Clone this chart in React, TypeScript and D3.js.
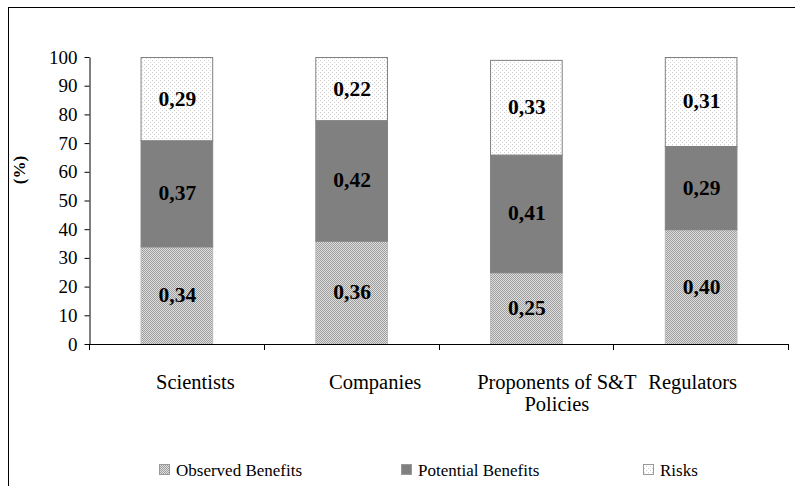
import { useEffect, useRef } from "react";
import * as d3 from "d3";

const categories = ["Scientists", "Companies", "Proponents of S&T\nPolicies", "Regulators"];
const observed = [34, 36, 25, 40];
const potential = [37, 42, 41, 29];
const risks = [29, 22, 33, 31];
const observedLabels = ["0,34", "0,36", "0,25", "0,40"];
const potentialLabels = ["0,37", "0,42", "0,41", "0,29"];
const riskLabels = ["0,29", "0,22", "0,33", "0,31"];
const seriesNames = ["Observed Benefits", "Potential Benefits", "Risks"];
const yTicks = [0, 10, 20, 30, 40, 50, 60, 70, 80, 90, 100];

const FONT = "'Liberation Serif', 'Times New Roman', serif";

export default function App() {
  const ref = useRef<SVGSVGElement>(null);

  useEffect(() => {
    const svg = d3.select(ref.current);
    svg.selectAll("*").remove();
    const W = 795, H = 486;
    const left = 89, right = 788, top = 57, bottom = 344;

    const defs = svg.append("defs");
    // fine checker for observed benefits
    const pObs = defs.append("pattern").attr("id", "obs").attr("patternUnits", "userSpaceOnUse")
      .attr("width", 2).attr("height", 2);
    pObs.append("rect").attr("width", 2).attr("height", 2).attr("fill", "#dedede");
    pObs.append("rect").attr("x", 0).attr("y", 0).attr("width", 1).attr("height", 1).attr("fill", "#9e9e9e");
    pObs.append("rect").attr("x", 1).attr("y", 1).attr("width", 1).attr("height", 1).attr("fill", "#9e9e9e");
    // sparse dots for risks
    const pRisk = defs.append("pattern").attr("id", "risk").attr("patternUnits", "userSpaceOnUse")
      .attr("width", 4).attr("height", 4);
    pRisk.append("rect").attr("width", 4).attr("height", 4).attr("fill", "#ffffff");
    pRisk.append("rect").attr("x", 0).attr("y", 0).attr("width", 1).attr("height", 1).attr("fill", "#cfcfcf");
    pRisk.append("rect").attr("x", 2).attr("y", 2).attr("width", 1).attr("height", 1).attr("fill", "#cfcfcf");

    svg.append("rect").attr("x", 0).attr("y", 0).attr("width", W).attr("height", H).attr("fill", "#fff");
    // outer frame (right/bottom fall outside the picture)
    svg.append("rect").attr("x", 8.5).attr("y", 7.5).attr("width", W + 10).attr("height", H + 10)
      .attr("fill", "none").attr("stroke", "#000").attr("stroke-width", 1);

    const x = d3.scaleBand().domain(categories).range([left, right]).paddingInner(0.59).paddingOuter(0.295);
    const y = d3.scaleLinear().domain([0, 100]).range([bottom, top]);

    const stacks = [
      { vals: observed, labels: observedLabels, fill: "url(#obs)", stroke: "#b8b8b8" },
      { vals: potential, labels: potentialLabels, fill: "#808080", stroke: "#808080" },
      { vals: risks, labels: riskLabels, fill: "url(#risk)", stroke: "#808080" },
    ];

    categories.forEach((c, i) => {
      let base = 0;
      stacks.forEach((s) => {
        const v = s.vals[i];
        const x0 = x(c)!;
        svg.append("rect")
          .attr("x", x0 + 0.5).attr("y", y(base + v) + 0.5)
          .attr("width", x.bandwidth()).attr("height", y(base) - y(base + v))
          .attr("fill", s.fill).attr("stroke", s.stroke).attr("stroke-width", 1);
        svg.append("text")
          .attr("x", x0 + x.bandwidth() / 2 + 1).attr("y", y(base + v / 2) + 7)
          .attr("text-anchor", "middle").attr("font-family", FONT)
          .attr("font-size", 21.5).attr("font-weight", "bold").attr("fill", "#000")
          .text(s.labels[i]);
        base += v;
      });
    });

    // y axis
    const ya = svg.append("g").attr("transform", `translate(${left + 0.5},0)`)
      .call(d3.axisLeft(y).tickValues(yTicks).tickSize(5).tickSizeOuter(0).tickPadding(7));
    ya.select(".domain").attr("stroke", "#000");
    ya.selectAll(".tick line").attr("stroke", "#000");
    ya.selectAll(".tick text").attr("font-family", FONT).attr("font-size", 19).attr("fill", "#000");

    // x axis
    svg.append("line").attr("x1", left).attr("x2", right + 0.5).attr("y1", bottom + 0.5).attr("y2", bottom + 0.5)
      .attr("stroke", "#000");
    d3.range(categories.length + 1).forEach((k) => {
      const xx = Math.round(left + k * ((right - left) / categories.length)) + 0.5;
      svg.append("line").attr("x1", xx).attr("x2", xx).attr("y1", bottom).attr("y2", bottom + 6)
        .attr("stroke", "#000");
    });

    // category labels sit slightly off the bar centres, as in the source chart
    const labelShift = [19, 24, 31, -8];
    categories.forEach((c, i) => {
      const lines = c.split("\n");
      const t = svg.append("text").attr("text-anchor", "middle").attr("font-family", FONT)
        .attr("font-size", 20.5).attr("fill", "#000");
      lines.forEach((ln, j) => {
        t.append("tspan").attr("x", x(c)! + x.bandwidth() / 2 + labelShift[i]).attr("y", 389 + j * 22).text(ln);
      });
    });

    // y label
    svg.append("text").attr("transform", "translate(25,170) rotate(-90)")
      .attr("text-anchor", "middle").attr("font-family", FONT).attr("font-size", 17)
      .attr("font-weight", "bold").text("(%)");

    // legend
    const legendFills = ["url(#obs)", "#808080", "url(#risk)"];
    const legendX = [159, 401, 643];
    seriesNames.forEach((n, i) => {
      svg.append("rect").attr("x", legendX[i] + 0.5).attr("y", 464.5).attr("width", 10).attr("height", 10)
        .attr("fill", legendFills[i]).attr("stroke", "#999");
      svg.append("text").attr("x", legendX[i] + 17).attr("y", 476).attr("font-family", FONT)
        .attr("font-size", 17).attr("fill", "#000").text(n);
    });
  }, []);

  return (
    <svg ref={ref} width={795} height={486}
      style={{ position: "absolute", left: 0, top: 0, display: "block" }} />
  );
}
